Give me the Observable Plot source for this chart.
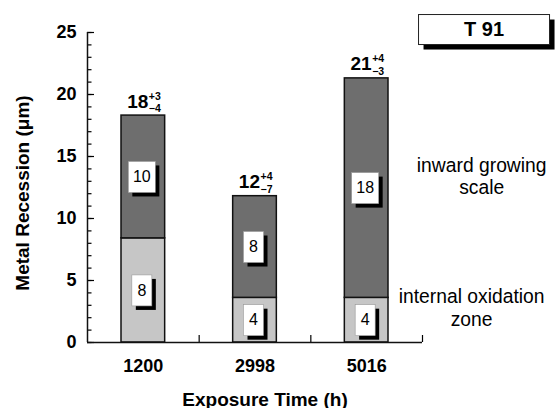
<!DOCTYPE html>
<html><head><meta charset="utf-8">
<script src="https://cdn.jsdelivr.net/npm/d3@7"></script>
<script src="https://cdn.jsdelivr.net/npm/@observablehq/plot@0.6"></script>
<style>body{margin:0;background:#fff}</style>
</head><body><div id="chart"></div>
<script>
// ---- data ----
const categories = ["1200", "2998", "5016"];          // exposure time (h)
const oxidationZone = [8.4, 3.6, 3.6];                 // internal oxidation zone depth (µm)
const inwardScale = [9.9, 8.2, 17.7];                  // inward growing scale thickness (µm)
const oxidationLabel = ["8", "4", "4"];
const scaleLabel = ["10", "8", "18"];
const totalLabel = ["18", "12", "21"];
const errPlus = ["+3", "+4", "+4"];
const errMinus = ["\u22124", "\u22127", "\u22123"];
const yMajorTicks = [0, 5, 10, 15, 20, 25];
const yMinorTicks = [0,1,2,3,4,5,6,7,8,9,10,11,12,13,14,15,16,17,18,19,20,21,22,23,24,25];
const annotations = [
  {text: "inward growing\nscale", x: 3.53, y: 11.95},
  {text: "internal oxidation\nzone", x: 3.44, y: 1.35}
];
const seriesTitle = [{text: "T 91", x: 3.551, y: 25.24}];

const rows = categories.map((c, i) => ({
  i, c,
  low: oxidationZone[i],
  high: oxidationZone[i] + inwardScale[i]
}));
const boxLabels = rows.flatMap(d => [
  {i: d.i, mid: d.low / 2, label: oxidationLabel[d.i]},
  {i: d.i, mid: (d.low + d.high) / 2, label: scaleLabel[d.i]}
]);

const FONT = "'Liberation Sans', Arial, Helvetica, sans-serif";

// text with a white box and a black drop shadow behind it
function boxedText(data, {boxW, boxH, shadow = 4, boxStroke = "#999", boxStrokeWidth = 0.6, ...options}) {
  return Plot.text(data, {...options, render(index, scales, values, dims, context, next) {
    const g = next(index, scales, values, dims, context);
    const ns = "http://www.w3.org/2000/svg";
    const layer = document.createElementNS(ns, "g");
    for (const i of index) {
      const cx = values.x[i], cy = values.y[i];
      const w = typeof boxW === "function" ? boxW(data[i]) : boxW;
      const h = boxH;
      const sh = document.createElementNS(ns, "rect");
      sh.setAttribute("x", cx - w / 2 + shadow);
      sh.setAttribute("y", cy - h / 2 + shadow);
      sh.setAttribute("width", w); sh.setAttribute("height", h);
      sh.setAttribute("fill", "#000");
      const bx = document.createElementNS(ns, "rect");
      bx.setAttribute("x", cx - w / 2);
      bx.setAttribute("y", cy - h / 2);
      bx.setAttribute("width", w); bx.setAttribute("height", h);
      bx.setAttribute("fill", "#fff");
      bx.setAttribute("stroke", boxStroke);
      bx.setAttribute("stroke-width", boxStrokeWidth);
      layer.appendChild(sh); layer.appendChild(bx);
    }
    g.insertBefore(layer, g.firstChild);
    return g;
  }});
}

const chart = Plot.plot({
  width: 555,
  height: 408,
  marginLeft: 87,
  marginRight: 133,
  marginTop: 32,
  marginBottom: 66,
  style: {fontFamily: FONT, color: "#000", background: "#fff", overflow: "visible"},
  x: {domain: [0, 3], label: null},
  y: {domain: [0, 25], label: null},
  marks: [
    // bars
    Plot.rectY(rows, {x1: d => d.i, x2: d => d.i + 1, y1: 0, y2: "low",
      fill: "#c6c6c6", stroke: "#111", strokeWidth: 1.5, insetLeft: 34, insetRight: 34}),
    Plot.rectY(rows, {x1: d => d.i, x2: d => d.i + 1, y1: "low", y2: "high",
      fill: "#6e6e6e", stroke: "#111", strokeWidth: 1.5, insetLeft: 34, insetRight: 34}),
    // axes
    Plot.axisY({ticks: yMinorTicks, tickSize: -4.5, tickFormat: () => "", strokeWidth: 1.2}),
    Plot.axisY({ticks: yMajorTicks, tickSize: -7, tickFormat: () => "", strokeWidth: 1.2}),
    Plot.axisY({ticks: yMajorTicks, tickSize: 0, tickPadding: 11, fontSize: 18, fontWeight: "bold"}),
    Plot.axisX({ticks: [1, 2, 3], tickSize: -7, tickFormat: () => "", strokeWidth: 1.2}),
    Plot.axisX({ticks: [0.5, 1.5, 2.5], tickSize: 0, tickPadding: 16.5,
      tickFormat: v => categories[Math.floor(v)], fontSize: 18, fontWeight: "bold"}),
    Plot.ruleX([0], {stroke: "#111", strokeWidth: 1.5}),
    Plot.ruleY([0], {stroke: "#111", strokeWidth: 1.5}),
    // boxed segment labels
    boxedText(boxLabels, {x: d => d.i + 0.5, y: "mid", text: "label", dx: -1.5,
      boxW: d => d.label.length > 1 ? 27 : 20, boxH: 31, shadow: 4,
      fontSize: 16, fontWeight: "normal"}),
    // totals with +/- ranges
    Plot.text(rows, {x: d => d.i + 0.5, y: "high", text: d => totalLabel[d.i],
      textAnchor: "end", lineAnchor: "bottom", dx: 5, dy: -8, fontSize: 19, fontWeight: "bold"}),
    Plot.text(rows, {x: d => d.i + 0.5, y: "high", text: d => errPlus[d.i],
      textAnchor: "start", lineAnchor: "bottom", dx: 5.5, dy: -16, fontSize: 10.5, fontWeight: "bold"}),
    Plot.text(rows, {x: d => d.i + 0.5, y: "high", text: d => errMinus[d.i],
      textAnchor: "start", lineAnchor: "bottom", dx: 5.5, dy: -3.5, fontSize: 10.5, fontWeight: "bold"}),
    // annotations
    Plot.text(annotations, {x: "x", y: "y", text: "text", lineAnchor: "bottom",
      lineHeight: 1.17, fontSize: 19.3, fontWeight: "normal"}),
    // series title box
    boxedText(seriesTitle, {x: "x", y: "y", text: "text", boxW: 131, boxH: 30, shadow: 5,
      boxStroke: "#222", boxStrokeWidth: 1, fontSize: 20, fontWeight: "bold"}),
    // axis titles
    Plot.text(["Exposure Time (h)"], {frameAnchor: "bottom", textAnchor: "middle", dx: 10, dy: 63,
      lineAnchor: "bottom", fontSize: 19, fontWeight: "bold"}),
    Plot.text(["Metal Recession (\u03bcm)"], {frameAnchor: "left", textAnchor: "middle",
      lineAnchor: "middle", rotate: -90, dx: -65, dy: 5.5, fontSize: 19, fontWeight: "bold"})
  ]
});
document.getElementById("chart").appendChild(chart);
</script>
</body></html>
